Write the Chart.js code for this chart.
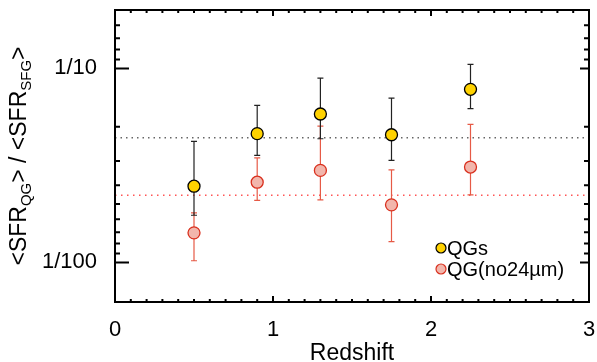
<!DOCTYPE html>
<html lang="en">
<head>
    <meta charset="UTF-8">
    <title>SFR ratio vs redshift</title>
    <script src="https://cdn.jsdelivr.net/npm/chart.js"></script>
    <style>
        body {
            margin: 0;
            background: #ffffff;
        }
        #ratioChart {
            display: block;
        }
    </style>
</head>
<body>
    <canvas id="ratioChart" width="597" height="362"></canvas>
    <script>
        // Values
        var redshift = [0.5, 0.9, 1.3, 1.75, 2.25];

        var qgRatio = [0.0247, 0.0461, 0.0582, 0.0455, 0.0780];
        var qgLow = [0.0175, 0.0356, 0.0434, 0.0336, 0.0620];
        var qgHigh = [0.0421, 0.0645, 0.0891, 0.0703, 0.1050];

        var no24Ratio = [0.0142, 0.0259, 0.0298, 0.0198, 0.0310];
        var no24Low = [0.0102, 0.0209, 0.0210, 0.0128, 0.0223];
        var no24High = [0.0180, 0.0346, 0.0504, 0.0300, 0.0514];

        var qgMean = 0.0439;
        var no24Mean = 0.0222;

        var seriesNames = ['QGs', 'QG(no24\u00b5m)'];

        // Axis ticks
        var xMajorTicks = [0, 1, 2, 3];
        var xTickLabels = ['0', '1', '2', '3'];
        var xMinorTicks = [0.1, 0.2, 0.3, 0.4, 0.5, 0.6, 0.7, 0.8, 0.9,
                           1.1, 1.2, 1.3, 1.4, 1.5, 1.6, 1.7, 1.8, 1.9,
                           2.1, 2.2, 2.3, 2.4, 2.5, 2.6, 2.7, 2.8, 2.9];
        var yMajorTicks = [0.1, 0.01];
        var yTickLabels = ['1/10', '1/100'];
        var yMinorTicks = [1/6, 1/7, 1/8, 1/9, 1/20, 1/30, 1/40, 1/50, 1/60, 1/70, 1/80, 1/90];

        var FONT = "'Liberation Sans', Arial, sans-serif";

        function points(xs, ys) {
            return xs.map(function(x, i) { return { x: x, y: ys[i] }; });
        }

        var errorBars = {
            0: { low: qgLow, high: qgHigh, color: '#222222' },
            1: { low: no24Low, high: no24High, color: '#E65A46' }
        };

        // error bars are drawn right before the points of their own series
        var errorBarPlugin = {
            id: 'errorBars',
            beforeDatasetDraw: function(chart, args) {
                var eb = errorBars[args.index];
                if (!eb) return;
                var ctx = chart.ctx;
                var xs = chart.scales.x, ys = chart.scales.y;
                ctx.save();
                ctx.strokeStyle = eb.color;
                ctx.lineWidth = 1.2;
                for (var i = 0; i < redshift.length; i++) {
                    var px = xs.getPixelForValue(redshift[i]);
                    var pLo = ys.getPixelForValue(eb.low[i]);
                    var pHi = ys.getPixelForValue(eb.high[i]);
                    ctx.beginPath();
                    ctx.moveTo(px, pLo); ctx.lineTo(px, pHi);
                    ctx.moveTo(px - 3, pLo); ctx.lineTo(px + 3, pLo);
                    ctx.moveTo(px - 3, pHi); ctx.lineTo(px + 3, pHi);
                    ctx.stroke();
                }
                ctx.restore();
            }
        };

        // IDL style box with inward ticks, axis titles and legend
        var framePlugin = {
            id: 'frame',
            afterDraw: function(chart) {
                var ctx = chart.ctx;
                var a = chart.chartArea;
                var xs = chart.scales.x, ys = chart.scales.y;
                ctx.save();
                ctx.strokeStyle = '#000';
                ctx.lineWidth = 2;
                ctx.strokeRect(a.left, a.top, a.right - a.left, a.bottom - a.top);

                ctx.beginPath();
                xMajorTicks.forEach(function(v) {
                    var p = xs.getPixelForValue(v);
                    ctx.moveTo(p, a.bottom); ctx.lineTo(p, a.bottom - 6);
                    ctx.moveTo(p, a.top); ctx.lineTo(p, a.top + 6);
                });
                xMinorTicks.forEach(function(v) {
                    var p = xs.getPixelForValue(v);
                    ctx.moveTo(p, a.bottom); ctx.lineTo(p, a.bottom - 3);
                    ctx.moveTo(p, a.top); ctx.lineTo(p, a.top + 3);
                });
                yMajorTicks.forEach(function(v) {
                    var p = ys.getPixelForValue(v);
                    ctx.moveTo(a.left, p); ctx.lineTo(a.left + 14, p);
                    ctx.moveTo(a.right, p); ctx.lineTo(a.right - 9, p);
                });
                yMinorTicks.forEach(function(v) {
                    var p = ys.getPixelForValue(v);
                    ctx.moveTo(a.left, p); ctx.lineTo(a.left + 5, p);
                    ctx.moveTo(a.right, p); ctx.lineTo(a.right - 5, p);
                });
                ctx.stroke();

                // x title
                ctx.fillStyle = '#000';
                ctx.font = '23px ' + FONT;
                ctx.textAlign = 'center';
                ctx.textBaseline = 'alphabetic';
                ctx.fillText('Redshift', (a.left + a.right) / 2, 360);

                // y title with subscripts
                var parts = [
                    ['<SFR', false], ['QG', true], ['> / <SFR', false], ['SFG', true], ['>', false]
                ];
                ctx.save();
                ctx.translate(26, (a.top + a.bottom) / 2);
                ctx.rotate(-Math.PI / 2);
                ctx.textAlign = 'left';
                var total = 0;
                parts.forEach(function(p) {
                    ctx.font = (p[1] ? '15px ' : '23px ') + FONT;
                    total += ctx.measureText(p[0]).width;
                });
                var cx = -total / 2;
                parts.forEach(function(p) {
                    ctx.font = (p[1] ? '15px ' : '23px ') + FONT;
                    ctx.fillText(p[0], cx, p[1] ? 5 : 0);
                    cx += ctx.measureText(p[0]).width;
                });
                ctx.restore();

                // legend
                var legendColors = [['#FFD200', '#000'], ['#F2B6AC', '#D9301E']];
                ctx.font = '20px ' + FONT;
                ctx.textAlign = 'left';
                ctx.textBaseline = 'middle';
                seriesNames.forEach(function(name, i) {
                    var ly = 248 + i * 21;
                    ctx.beginPath();
                    ctx.arc(441, ly, 5, 0, Math.PI * 2);
                    ctx.fillStyle = legendColors[i][0];
                    ctx.fill();
                    ctx.lineWidth = 1.2;
                    ctx.strokeStyle = legendColors[i][1];
                    ctx.stroke();
                    ctx.fillStyle = '#000';
                    ctx.fillText(name, 447, ly + 1);
                });
                ctx.restore();
            }
        };

        var data = {
            datasets: [{
                label: seriesNames[0],
                data: points(redshift, qgRatio),
                backgroundColor: '#FFD200',
                borderColor: '#000000',
                borderWidth: 1.3,
                pointRadius: 6,
                showLine: false
            }, {
                label: seriesNames[1],
                data: points(redshift, no24Ratio),
                backgroundColor: '#F2B6AC',
                borderColor: '#D9301E',
                borderWidth: 1.3,
                pointRadius: 6,
                showLine: false
            }, {
                type: 'line',
                label: 'QG mean',
                data: [{ x: 0, y: qgMean }, { x: 3, y: qgMean }],
                borderColor: '#666666',
                borderWidth: 1.5,
                borderDash: [1.5, 4],
                pointRadius: 0
            }, {
                type: 'line',
                label: 'no24 mean',
                data: [{ x: 0, y: no24Mean }, { x: 3, y: no24Mean }],
                borderColor: '#FF5555',
                borderWidth: 1.5,
                borderDash: [1.5, 4.5],
                pointRadius: 0
            }]
        };

        var config = {
            type: 'scatter',
            data: data,
            options: {
                responsive: false,
                animation: false,
                layout: { padding: { left: 0, top: 10, right: 8, bottom: 0 } },
                plugins: {
                    legend: { display: false },
                    tooltip: { enabled: false }
                },
                scales: {
                    x: {
                        type: 'linear',
                        min: 0,
                        max: 3,
                        afterFit: function(scale) {
                            scale.height = 60;
                            scale.paddingLeft = 0;
                            scale.paddingRight = 0;
                        },
                        afterBuildTicks: function(scale) {
                            scale.ticks = xMajorTicks.map(function(v) { return { value: v }; });
                        },
                        ticks: {
                            autoSkip: false,
                            maxRotation: 0,
                            padding: 7,
                            color: '#000',
                            font: { family: FONT, size: 22 },
                            callback: function(value) {
                                return xTickLabels[xMajorTicks.indexOf(value)];
                            }
                        },
                        grid: { display: false },
                        border: { display: false }
                    },
                    y: {
                        type: 'logarithmic',
                        min: 1 / 160,
                        max: 0.2,
                        afterFit: function(scale) {
                            scale.width = 115;
                            scale.paddingTop = 0;
                            scale.paddingBottom = 0;
                        },
                        afterBuildTicks: function(scale) {
                            scale.ticks = yMajorTicks.map(function(v) { return { value: v }; });
                        },
                        ticks: {
                            autoSkip: false,
                            padding: 10,
                            color: '#000',
                            font: { family: FONT, size: 22 },
                            callback: function(value) {
                                return yTickLabels[yMajorTicks.indexOf(value)];
                            }
                        },
                        grid: { display: false },
                        border: { display: false }
                    }
                }
            },
            plugins: [errorBarPlugin, framePlugin]
        };

        var ctx = document.getElementById('ratioChart').getContext('2d');
        window.myChart = new Chart(ctx, config);
    </script>
</body>
</html>
